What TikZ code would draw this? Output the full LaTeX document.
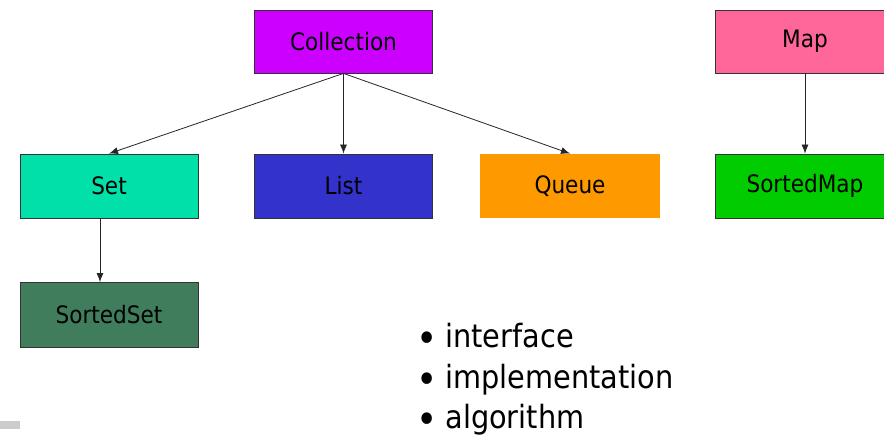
\documentclass[tikz,border=0pt]{standalone}
\usepackage{fontspec}
\setmainfont{DejaVu Sans Condensed}
\usetikzlibrary{arrows.meta}
\definecolor{cColl}{HTML}{CC00FF}
\definecolor{cMap}{HTML}{FF6699}
\definecolor{cSet}{HTML}{00E0A8}
\definecolor{cList}{HTML}{3333CC}
\definecolor{cQueue}{HTML}{FF9900}
\definecolor{cSMap}{HTML}{00CC00}
\definecolor{cSSet}{HTML}{3F7D5C}
\definecolor{cMark}{HTML}{CCCCCC}
\newcommand{\bigbul}{\raisebox{-5pt}{\fontsize{40}{40}\selectfont\textbullet}\hspace{8pt}}
\tikzset{
  box/.style={draw=black!80, line width=0.8pt, minimum width=178pt, minimum height=63pt,
    inner sep=0pt, font=\fontsize{24}{28}\selectfont, text=black},
  bul/.style={anchor=base west, inner sep=0pt, font=\fontsize{32}{35}\selectfont, text=black},
  arr/.style={draw=black!85, line width=0.8pt, -{Latex[length=9pt,width=7pt]}}
}
\begin{document}
\begin{tikzpicture}[x=1pt,y=-1pt]
\clip (0,0) rectangle (884,443);
\fill[white] (0,0) rectangle (884,443);
\node[box, fill=cColl] (coll) at (343.5,41.5) {Collection};
\node[box, fill=cMap, minimum width=180pt] (map) at (805,41.5) {Map};
\node[box, fill=cSet, minimum height=64pt] (set) at (109,186) {Set};
\node[box, fill=cList, minimum height=64pt] (list) at (343.5,186) {List};
\node[box, draw=none, fill=cQueue, minimum width=180pt, minimum height=64pt] (queue) at (570,186) {Queue};
\node[box, fill=cSMap, minimum width=180pt, minimum height=64pt] (smap) at (805,186) {SortedMap};
\node[box, fill=cSSet, minimum height=65pt] (sset) at (109,315) {SortedSet};
\draw[arr] (coll.south) -- (set.north);
\draw[arr] (coll.south) -- (list.north);
\draw[arr] (coll.south) -- (queue.north);
\draw[arr] ([xshift=-9pt]set.south) -- ([xshift=-9pt]sset.north);
\draw[arr] (map.south) -- (smap.north);
\node[bul] (b1) at (416,348) {\bigbul interface};
\node[bul] (b2) at (416,388.5) {\bigbul implementation};
\node[bul] (b3) at (416,429) {\bigbul algorithm};
\fill[cMark] (0,421) rectangle (20,429);
\end{tikzpicture}
\end{document}
